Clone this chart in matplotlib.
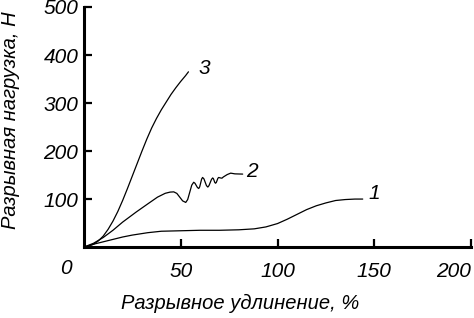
import matplotlib
matplotlib.use("Agg")
import matplotlib.pyplot as plt

plt.rcParams['font.family'] = ['Liberation Sans', 'DejaVu Sans']
plt.rcParams['font.style'] = 'italic'

# curve 1
x1 = [0, 5, 10, 15, 20, 25, 33, 40, 50, 60, 70, 80, 88, 94, 100, 105, 110,
      115, 120, 125, 130, 135, 140, 144]
y1 = [0, 6, 11, 16, 21, 25, 30, 33, 34, 35, 35, 36, 38, 42, 49, 58, 68,
      78, 86, 92, 97, 99, 100, 100]

# curve 2 (wavy part after ~46 %)
x2 = [0, 5, 10, 15, 20, 27, 33, 38, 42, 44.5, 46.4, 48, 49.5, 51, 52.6,
      53.6, 54.65, 55.7, 56.7, 57.35, 58, 58.65, 59.3, 59.8, 60.3, 60.8,
      61.3, 62, 62.65, 63.3, 64, 64.6, 65.25, 65.9, 66.5, 66.9, 67.25, 67.6,
      68, 68.4, 68.8, 69.2, 69.6, 70.5, 71.3, 72, 74, 75.8, 78, 82]
y2 = [0, 8, 20, 35, 52, 73, 90, 104, 112, 114.5, 115, 111.8, 104, 96.2, 93,
      99, 114, 129, 135, 133, 128.5, 124, 122, 125.4, 133.5, 141.6,
      145, 142, 135, 128, 125, 128, 134.5, 141, 144, 142.4, 138.5, 134.6,
      133, 134.8, 139, 143.2, 145, 144, 143.5, 146, 151, 154, 152.5, 152]

# curve 3
x3 = [0, 2.5, 5, 7.5, 10, 12.5, 15, 17.5, 20, 22.5, 25, 27.5, 30, 32.5, 35,
      37.5, 40, 42.5, 45, 47.5, 50, 52.5, 54]
y3 = [0, 2, 6, 13, 23, 37, 54, 74, 97, 122, 148, 174, 200, 225, 248, 268,
      286, 302, 318, 332, 345, 357, 365]

xticks = [50, 100, 150, 200]
yticks = [100, 200, 300, 400, 500]

fig = plt.figure(figsize=(4.74, 3.18), dpi=100)
ax = fig.add_axes([0.177, 0.223, 0.817, 0.755])

for xs, ys in [(x1, y1), (x2, y2), (x3, y3)]:
    ax.plot(xs, ys, color='black', lw=0.9, solid_capstyle='round',
            solid_joinstyle='round')

ax.text(147, 112, '1', fontsize=15, va='center', ha='left')
ax.text(84, 158, '2', fontsize=15, va='center', ha='left')
ax.text(59, 372, '3', fontsize=15, va='center', ha='left')

ax.set_xlim(0, 200)
ax.set_ylim(0, 500)
ax.set_xticks(xticks)
ax.set_yticks(yticks)
ax.tick_params(direction='in', length=6, width=1.6, labelsize=15)
ax.tick_params(axis='x', pad=11)
ax.tick_params(axis='y', pad=4)
ax.get_xticklabels()[-1].set_horizontalalignment('right')
for s in ['top', 'right']:
    ax.spines[s].set_visible(False)
for s in ['left', 'bottom']:
    ax.spines[s].set_linewidth(2.2)

fig.text(66 / 474, 1 - 268 / 318, '0', fontsize=15, ha='center', va='center')
fig.text(240 / 474, 1 - 303 / 318, 'Разрывное удлинение, %', fontsize=14.5,
         ha='center', va='center')
fig.text(11 / 474, 1 - 120 / 318, 'Разрывная нагрузка, Н', fontsize=14.5,
         ha='center', va='center', rotation=90)

fig.savefig('out.png', dpi=100)
